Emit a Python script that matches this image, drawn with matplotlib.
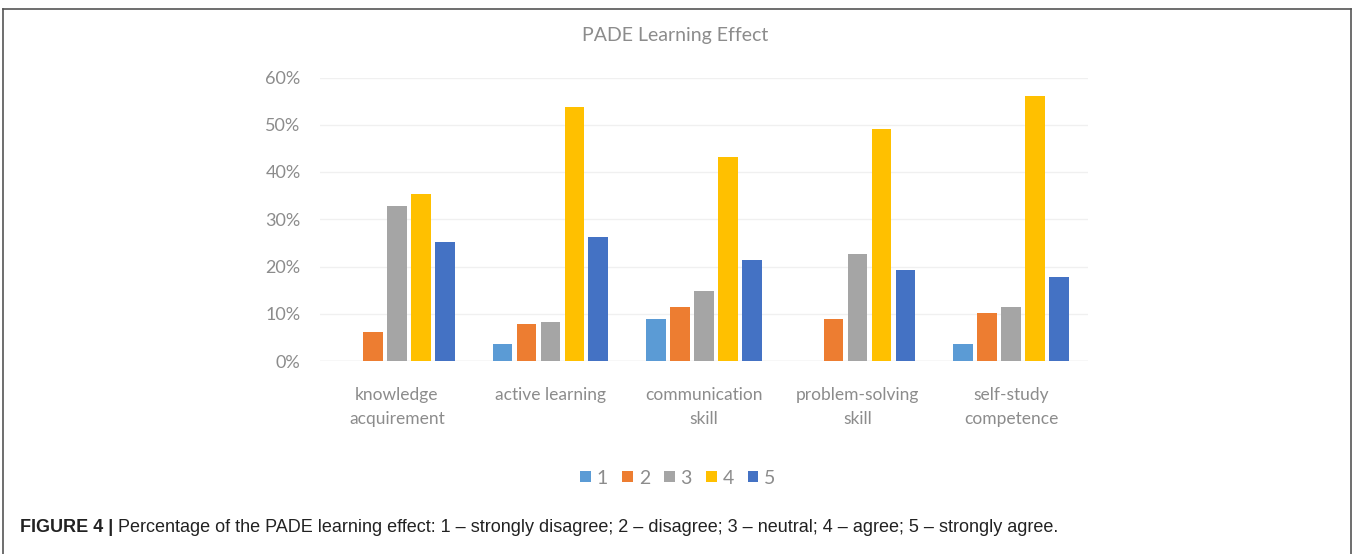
import numpy as np
import matplotlib
matplotlib.use('Agg')
import matplotlib.pyplot as plt
from matplotlib.lines import Line2D
from matplotlib.patches import Patch

categories = ['knowledge\nacquirement', 'active learning', 'communication\nskill',
              'problem-solving\nskill', 'self-study\ncompetence']
series_names = ['1', '2', '3', '4', '5']
s1 = [0.0, 3.7, 8.8, 0.0, 3.7]
s2 = [6.2, 7.8, 11.5, 8.8, 10.2]
s3 = [32.8, 8.3, 14.8, 22.6, 11.5]
s4 = [35.3, 53.7, 43.2, 49.0, 56.1]
s5 = [25.2, 26.2, 21.3, 19.3, 17.8]
series = [s1, s2, s3, s4, s5]
colors = ['#5b9bd5', '#ed7d31', '#a5a5a5', '#ffc000', '#4472c4']
yticks = [0, 10, 20, 30, 40, 50, 60]

W, H = 1352, 554
fig = plt.figure(figsize=(W / 100, H / 100), dpi=100)
txt_gray = '#8c8c8c'
font = ['Lato', 'DejaVu Sans']

ax = fig.add_axes([320 / W, 1 - 361 / H, (1088 - 320) / W, (361 - 77.5) / H])
x = np.arange(len(categories))
pitch = 0.156
for i, vals in enumerate(series):
    ax.bar(x + (i - 2) * pitch, vals, width=0.128, color=colors[i], zorder=3)

ax.set_xlim(-0.5, len(categories) - 0.5)
ax.set_ylim(0, 60)
ax.set_yticks(yticks)
ax.set_yticklabels([f'{t}%' for t in yticks], color=txt_gray, fontsize=13, family=font)
ax.set_xticks(x)
ax.set_xticklabels(categories, color=txt_gray, fontsize=12.5, family=font, linespacing=1.55)
ax.tick_params(axis='both', length=0)
ax.tick_params(axis='y', pad=14)
ax.tick_params(axis='x', pad=19)
ax.yaxis.grid(True, color='#f0f0f0', linewidth=1, zorder=0)
for s in ax.spines.values():
    s.set_visible(False)
ax.axhline(0, color='#e6e6e6', linewidth=1, zorder=2)

fig.text(675 / W, 1 - 35 / H, 'PADE Learning Effect', ha='center', va='center',
         color=txt_gray, fontsize=14, family=font)

handles = [Patch(facecolor=c, edgecolor='none') for c in colors]
fig.legend(handles, series_names, loc='center', bbox_to_anchor=(678 / W, 1 - 478 / H),
           ncol=5, frameon=False, prop={'family': font, 'size': 14},
           labelcolor=txt_gray, handlelength=0.55, handleheight=0.55,
           handletextpad=0.3, columnspacing=0.72)

cap_font = ['Liberation Sans', 'DejaVu Sans']
t1 = fig.text(20 / W, 1 - 527 / H, 'FIGURE 4 |', ha='left', va='center',
              fontsize=12.95, fontweight='bold', family=cap_font, color='#222222')
fig.canvas.draw()
bb = t1.get_window_extent()
fig.text((bb.x1 + 5) / W, 1 - 527 / H,
         'Percentage of the PADE learning effect: 1 \u2013 strongly disagree; 2 \u2013 disagree; '
         '3 \u2013 neutral; 4 \u2013 agree; 5 \u2013 strongly agree.',
         ha='left', va='center', fontsize=12.95, family=cap_font, color='#222222')

# frame around the figure
fig.add_artist(Line2D([2.5 / W, 2.5 / W], [0, 1 - 8.5 / H], transform=fig.transFigure,
                      color='#555555', linewidth=1.2))
fig.add_artist(Line2D([2.5 / W, 1350.5 / W], [1 - 8.5 / H, 1 - 8.5 / H], transform=fig.transFigure,
                      color='#555555', linewidth=1.2))
fig.add_artist(Line2D([1350.5 / W, 1350.5 / W], [0, 1 - 8.5 / H], transform=fig.transFigure,
                      color='#555555', linewidth=1.2))

fig.savefig('out.png', dpi=100)
